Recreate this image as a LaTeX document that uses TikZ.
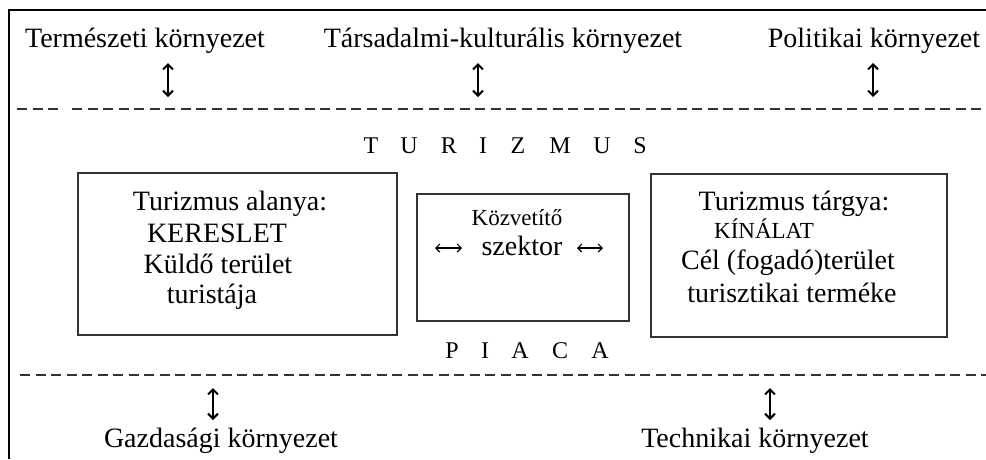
\documentclass[tikz,border=0pt]{standalone}
\usepackage{fontspec}
\setmainfont{Liberation Serif}
\usetikzlibrary{arrows.meta}
\begin{document}
\begin{tikzpicture}[x=1pt,y=-1pt,
  lbl/.style={font=\fontsize{28}{32}\selectfont, inner sep=0pt, anchor=base},
  sml/.style={font=\fontsize{23}{27}\selectfont, inner sep=0pt, anchor=base},
  spc/.style={font=\fontsize{24}{28}\selectfont, inner sep=0pt, anchor=base},
  box/.style={draw=black!80, line width=2pt, inner sep=0pt},
  dashline/.style={draw=black!80, line width=2pt, dash pattern=on 10pt off 5.5pt},
  vlink/.style={{Straight Barb[length=5pt,width=10pt]}-{Straight Barb[length=5pt,width=10pt]}, line width=2pt},
  hlink/.style={{Straight Barb[length=4pt,width=8pt]}-{Straight Barb[length=4pt,width=8pt]}, line width=1.2pt}
]
\useasboundingbox (0,0) rectangle (986,459);
\fill[white] (0,0) rectangle (986,459);
% frame
\draw[line width=2pt] (9,459) -- (9,10) -- (986,10);

% top environment labels
\node[lbl] (nat) at (145,47) {Természeti környezet};
\node[lbl] (soc) at (503,47) {Társadalmi-kulturális környezet};
\node[lbl] (pol) at (874,47) {Politikai környezet};
\coordinate (natA) at (168,63); \coordinate (natB) at (168,97);
\coordinate (socA) at (478,63); \coordinate (socB) at (478,97);
\coordinate (polA) at (873,63); \coordinate (polB) at (873,97);
\draw[vlink] (natA) -- (natB);
\draw[vlink] (socA) -- (socB);
\draw[vlink] (polA) -- (polB);

% upper dashed line
\draw[dashline] (17,109) -- (60,109);
\draw[dashline] (72,109) -- (986,109);

% TURIZMUS
\foreach \x/\l in {371/T,409/U,449/R,483/I,518/Z,560/M,602/U,640/S}
  \node[spc] (tz\x) at (\x,153) {\l};

% boxes
\node[box, minimum width=319pt, minimum height=162pt] (dem) at (237.5,254) {};
\node[box, minimum width=212pt, minimum height=127pt] (mid) at (523,257.5) {};
\node[box, minimum width=296pt, minimum height=163pt] (sup) at (799,255.5) {};

% left box text
\node[lbl] (d1) at (230,210) {Turizmus alanya:};
\node[lbl] (d2) at (217,242) {KERESLET};
\node[lbl] (d3) at (218,273) {Küldő terület};
\node[lbl] (d4) at (212,303) {turistája};

% middle box text
\node[sml] (m1) at (517,225) {Közvetítő};
\node[lbl] (m2) at (522,255) {szektor};
\coordinate (mlA) at (435,248); \coordinate (mlB) at (462,248);
\coordinate (mrA) at (577,248); \coordinate (mrB) at (603,248);
\draw[hlink] (mlA) -- (mlB);
\draw[hlink] (mrA) -- (mrB);

% right box text
\node[lbl] (s1) at (794,210) {Turizmus tárgya:};
\node[sml] (s2) at (764,238) {KÍNÁLAT};
\node[lbl] (s3) at (788,269) {Cél (fogadó)terület};
\node[lbl] (s4) at (792,302) {turisztikai terméke};

% PIACA
\foreach \x/\l in {452/P,485/I,520/A,560/C,600/A}
  \node[spc] (pa\x) at (\x,358) {\l};

% lower dashed line
\draw[dashline] (20,375) -- (986,375);

% bottom environment labels
\coordinate (ecoA) at (213,388); \coordinate (ecoB) at (213,420);
\coordinate (tecA) at (770,388); \coordinate (tecB) at (770,420);
\draw[vlink] (ecoA) -- (ecoB);
\draw[vlink] (tecA) -- (tecB);
\node[lbl] (eco) at (221,447) {Gazdasági környezet};
\node[lbl] (tec) at (755,447) {Technikai környezet};
\end{tikzpicture}
\end{document}
